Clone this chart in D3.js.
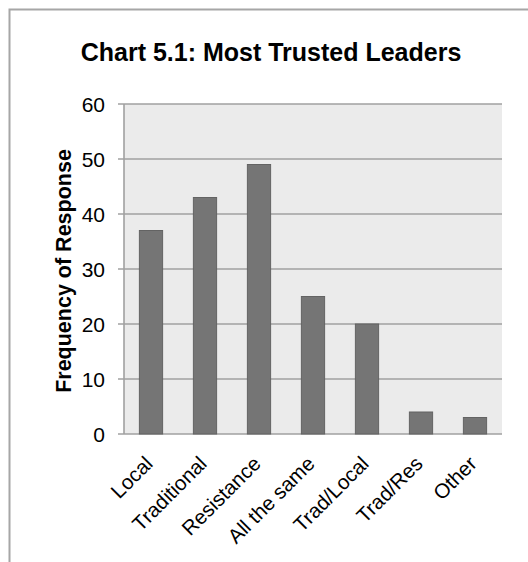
<!DOCTYPE html>
<html><head><meta charset="utf-8">
<script src="https://cdn.jsdelivr.net/npm/d3@7"></script>
<style>body{margin:0;background:#fff;}svg{display:block;font-family:"Liberation Sans",Arial,sans-serif;}</style>
</head><body>
<svg id="c" width="528" height="562"></svg>
<script>
const categories = ["Local","Traditional","Resistance","All the same","Trad/Local","Trad/Res","Other"];
const values = [37,43,49,25,20,4,3];
const yTicks = [0,10,20,30,40,50,60];
const title = "Chart 5.1: Most Trusted Leaders";
const yTitle = "Frequency of Response";

const svg = d3.select("#c");
// outer frame
svg.append("path").attr("d","M9.5,562 L9.5,9.5 L528,9.5").attr("fill","none").attr("stroke","#a6a6a6").attr("stroke-width",2);

const m = {l:124, t:104, r:502, b:434};
const x = d3.scaleBand().domain(categories).range([m.l,m.r]).paddingInner(0.57).paddingOuter(0.285);
const y = d3.scaleLinear().domain([0,60]).range([m.b,m.t]);

svg.append("rect").attr("x",m.l).attr("y",m.t).attr("width",m.r-m.l).attr("height",m.b-m.t).attr("fill","#ebebeb");

const g = svg.append("g");
g.selectAll("line.grid").data(yTicks).join("line")
  .attr("x1",m.l-6).attr("x2",m.r).attr("y1",d=>y(d)).attr("y2",d=>y(d))
  .attr("stroke","#a0a0a0").attr("stroke-width",1.6);
svg.append("line").attr("x1",m.l).attr("x2",m.l).attr("y1",m.t).attr("y2",m.b).attr("stroke","#a0a0a0").attr("stroke-width",1.6);

g.selectAll("text.yt").data(yTicks).join("text")
  .attr("x",m.l-19).attr("y",d=>y(d)).attr("dy","0.36em").attr("text-anchor","end")
  .attr("font-size",21).attr("fill","#000").text(d=>d);

svg.selectAll("rect.bar").data(values).join("rect")
  .attr("x",(d,i)=>x(categories[i])).attr("width",x.bandwidth())
  .attr("y",d=>y(d)).attr("height",d=>y(0)-y(d))
  .attr("fill","#757575").attr("stroke","#636363").attr("stroke-width",1);

svg.selectAll("text.xl").data(categories).join("text")
  .attr("transform",d=>`translate(${x(d)+x.bandwidth()/2+3},${m.b+31}) rotate(-45)`)
  .attr("text-anchor","end").attr("font-size",20.5).attr("fill","#000").text(d=>d);

svg.append("text").attr("x",271).attr("y",61).attr("text-anchor","middle")
  .attr("font-size",25).attr("font-weight","bold").attr("fill","#000").text(title);

svg.append("text").attr("transform",`translate(71,${(m.t+m.b)/2 + 2}) rotate(-90)`)
  .attr("text-anchor","middle").attr("font-size",21.5).attr("font-weight","bold").attr("fill","#000").text(yTitle);
</script>
</body></html>
